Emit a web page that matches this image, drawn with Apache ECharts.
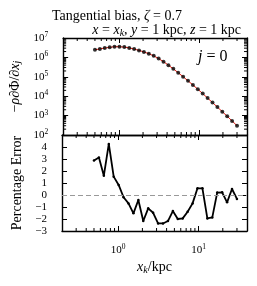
<!DOCTYPE html>
<html><head><meta charset="utf-8">
<script src="https://cdn.jsdelivr.net/npm/echarts@6/dist/echarts.min.js"></script>
<style>html,body{margin:0;padding:0;background:#fff}#c{width:257px;height:286px}</style>
</head><body><div id="c"></div>
<script>
// x_k positions (kpc)
const xValues = [0.5, 0.576, 0.663, 0.764, 0.879, 1.013, 1.166, 1.343, 1.547, 1.781,
  2.051, 2.362, 2.720, 3.133, 3.608, 4.155, 4.785, 5.510, 6.345, 7.307,
  8.415, 9.691, 11.16, 12.85, 14.80, 17.04, 19.63, 22.60, 26.03, 30.0];
// -rho dPhi/dx_j
const forceValues = [2.45e6, 2.75e6, 3.02e6, 3.31e6, 3.55e6, 3.55e6, 3.39e6, 3.09e6, 2.69e6, 2.29e6,
  1.91e6, 1.55e6, 1.20e6, 8.7e5, 6.0e5, 3.98e5, 2.57e5, 1.62e5, 1.01e5, 6.2e4,
  3.8e4, 2.29e4, 1.36e4, 8.0e3, 4.7e3, 2.75e3, 1.60e3, 923, 531, 302];
// percentage error
const errorValues = [2.87, 3.12, 1.61, 4.26, 1.53, 0.84, -0.19, -0.70, -1.53, -0.42,
  -2.17, -1.11, -1.48, -2.37, -2.37, -2.17, -1.34, -2.00, -1.95, -1.39,
  -0.70, 0.56, 0.56, -1.95, -1.87, 0.20, 0.22, -0.61, 0.50, -0.33];
// minor tick positions
const xMinorTicks = [0.3, 0.4, 0.5, 0.6, 0.7, 0.8, 0.9, 2, 3, 4, 5, 6, 7, 8, 9, 20, 30];
const yMinorTicks = [];
[100, 1000, 10000, 100000, 1000000].forEach(d => { for (let m = 2; m <= 9; m++) yMinorTicks.push(m * d); });

const X_MIN = 0.2, X_MAX = 40, Y0_MIN = 100, Y0_MAX = 1e7, Y1_MIN = -3, Y1_MAX = 5;
const SERIF = '"Liberation Serif", "DejaVu Serif", serif';
const richBase = {
  b: { fontFamily: SERIF, fontSize: 11, color: '#000' },
  s: { fontFamily: SERIF, fontSize: 7.5, color: '#000', verticalAlign: 'top', padding: [0, 0, 6, 0] },
  i: { fontFamily: SERIF, fontStyle: 'italic', fontSize: 14, color: '#000' },
  r: { fontFamily: SERIF, fontSize: 14, color: '#000' },
  sub: { fontFamily: SERIF, fontStyle: 'italic', fontSize: 10, color: '#000', padding: [5, 0, 0, 0] }
};
function pow10Label(v) {
  const e = Math.log10(v);
  if (Math.abs(e - Math.round(e)) > 1e-6) return '';
  return '{b|10}{s|' + Math.round(e) + '}';
}
const tickStyle = { inside: true, length: 5, lineStyle: { color: '#000', width: 1 } };
const lineStyle = { show: true, onZero: false, lineStyle: { color: '#000', width: 1.4 } };

function xAxisDef(grid, pos, showLabel) {
  return {
    gridIndex: grid, type: 'log', logBase: 10, min: X_MIN, max: X_MAX, position: pos,
    axisLine: lineStyle, axisTick: tickStyle, splitLine: { show: false },
    axisLabel: showLabel ? { show: true, margin: 12, showMinLabel: false, showMaxLabel: false,
      formatter: pow10Label, rich: richBase } : { show: false },
    name: showLabel ? '{i|x}{sub|k}{r|/kpc}' : '', nameLocation: 'middle', nameGap: 29,
    nameTextStyle: { rich: richBase }
  };
}

function minorXSeries(xi, yi, yLo, yHi) {
  return {
    type: 'custom', xAxisIndex: xi, yAxisIndex: yi, clip: false, silent: true, z: 5,
    data: xMinorTicks.map(v => [v]), encode: { x: 0 },
    renderItem: (params, api) => {
      const v = api.value(0);
      const b = api.coord([v, yLo]), t = api.coord([v, yHi]);
      return { type: 'group', children: [
        { type: 'line', shape: { x1: b[0], y1: b[1], x2: b[0], y2: b[1] - 3 }, style: { stroke: '#000', lineWidth: 1 } },
        { type: 'line', shape: { x1: t[0], y1: t[1], x2: t[0], y2: t[1] + 3 }, style: { stroke: '#000', lineWidth: 1 } }
      ] };
    }
  };
}

const chart = echarts.init(document.getElementById('c'), null, { renderer: 'canvas' });
chart.setOption({
  animation: false,
  backgroundColor: '#fff',
  title: [
    { text: '{r|Tangential bias, }{i|ζ}{r| = 0.7}', left: 47, top: 4,
      textStyle: { fontFamily: SERIF, fontSize: 14, fontWeight: 'normal', color: '#000', rich: richBase } },
    { text: '{i|x}{r| = }{i|x}{sub|k}{r|, }{i|y}{r| = 1 kpc, }{i|z}{r| = 1 kpc}', right: 11, top: 18,
      textStyle: { fontFamily: SERIF, fontSize: 14, fontWeight: 'normal', color: '#000', rich: richBase } }
  ],
  graphic: [
    { type: 'text', left: 198, top: 49, style: { rich: { i: { fontFamily: SERIF, fontStyle: 'italic', fontSize: 16, fill: '#000' }, r: { fontFamily: SERIF, fontSize: 16, fill: '#000' } }, text: '{i|j}{r| = 0}' } }
  ],
  grid: [
    { left: 62, top: 38, width: 185, height: 97 },
    { left: 62, top: 135, width: 185, height: 96 }
  ],
  xAxis: [
    xAxisDef(0, 'bottom', false),
    xAxisDef(0, 'top', false),
    xAxisDef(1, 'bottom', true),
    xAxisDef(1, 'top', false)
  ],
  yAxis: [
    { gridIndex: 0, type: 'log', logBase: 10, min: Y0_MIN, max: Y0_MAX, position: 'left',
      axisLine: lineStyle, axisTick: tickStyle, splitLine: { show: false },
      axisLabel: { margin: 15, formatter: pow10Label, rich: richBase },
      name: '{r|−}{i|ρ}{r|∂Φ/∂}{i|x}{sub|j}', nameLocation: 'middle', nameGap: 38, nameRotate: 90,
      nameTextStyle: { rich: richBase } },
    { gridIndex: 0, type: 'log', logBase: 10, min: Y0_MIN, max: Y0_MAX, position: 'right',
      axisLine: lineStyle, axisTick: tickStyle, splitLine: { show: false }, axisLabel: { show: false } },
    { gridIndex: 1, type: 'value', min: Y1_MIN, max: Y1_MAX, interval: 1, position: 'left',
      axisLine: lineStyle, axisTick: tickStyle, splitLine: { show: false },
      axisLabel: { margin: 15, fontFamily: SERIF, fontSize: 11, color: '#000',
        formatter: v => v === Y1_MAX ? '' : (v < 0 ? '−' + Math.abs(v) : String(v)) },
      name: 'Percentage Error', nameLocation: 'middle', nameGap: 29, nameRotate: 90,
      nameTextStyle: { fontFamily: SERIF, fontSize: 14, color: '#000' } },
    { gridIndex: 1, type: 'value', min: Y1_MIN, max: Y1_MAX, interval: 1, position: 'right',
      axisLine: lineStyle, axisTick: tickStyle, splitLine: { show: false }, axisLabel: { show: false } }
  ],
  series: [
    { type: 'line', xAxisIndex: 0, yAxisIndex: 0, data: xValues.map((x, i) => [x, forceValues[i]]),
      showSymbol: false, symbol: 'none', lineStyle: { color: '#e8190f', width: 1 }, z: 3 },
    { type: 'scatter', xAxisIndex: 0, yAxisIndex: 0, data: xValues.map((x, i) => [x, forceValues[i]]),
      symbolSize: 4, itemStyle: { color: '#000' }, z: 4 },
    { type: 'line', xAxisIndex: 2, yAxisIndex: 2, data: xValues.map((x, i) => [x, errorValues[i]]),
      symbol: 'circle', symbolSize: 2.5, itemStyle: { color: '#000' }, lineStyle: { color: '#000', width: 1.8 }, z: 4,
      markLine: { silent: true, symbol: 'none', label: { show: false },
        lineStyle: { color: '#999', type: [5, 3], width: 1.2 }, data: [{ yAxis: 0 }] } },
    minorXSeries(0, 0, Y0_MIN, Y0_MAX),
    minorXSeries(2, 2, Y1_MIN, Y1_MAX),
    { type: 'custom', xAxisIndex: 0, yAxisIndex: 0, clip: false, silent: true, z: 5,
      data: yMinorTicks.map(v => [v]), encode: { y: 0 },
      renderItem: (params, api) => {
        const v = api.value(0);
        const l = api.coord([X_MIN, v]), r = api.coord([X_MAX, v]);
        return { type: 'group', children: [
          { type: 'line', shape: { x1: l[0], y1: l[1], x2: l[0] + 3, y2: l[1] }, style: { stroke: '#000', lineWidth: 1 } },
          { type: 'line', shape: { x1: r[0], y1: r[1], x2: r[0] - 3, y2: r[1] }, style: { stroke: '#000', lineWidth: 1 } }
        ] };
      } }
  ]
});
</script></body></html>
